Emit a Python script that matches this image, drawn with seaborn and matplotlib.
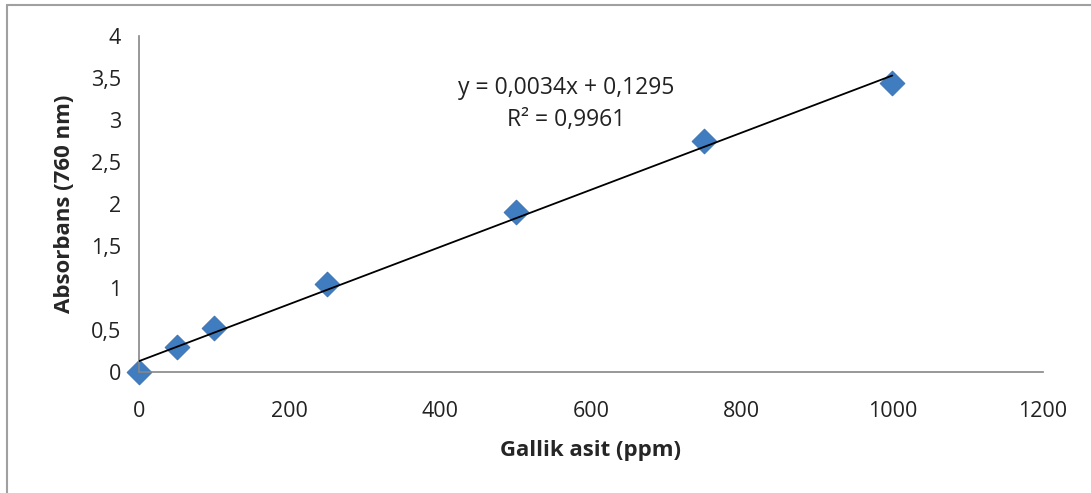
import numpy as np
import pandas as pd
import seaborn as sns
import matplotlib.pyplot as plt
from matplotlib.ticker import FuncFormatter, MultipleLocator
from matplotlib.lines import Line2D

# Gallic acid calibration data
concentration = [0, 50, 100, 250, 500, 750, 1000]
absorbance = [0.0, 0.30, 0.52, 1.05, 1.90, 2.75, 3.44]
slope, intercept = 0.0034, 0.1295
equation_text = "y = 0,0034x + 0,1295\nR² = 0,9961"

df = pd.DataFrame({"Gallik asit (ppm)": concentration, "Absorbans (760 nm)": absorbance})
df["fit"] = slope * df["Gallik asit (ppm)"] + intercept

sns.set_style("white")
plt.rcParams["font.family"] = ["Open Sans", "DejaVu Sans"]

fig = plt.figure(figsize=(10.91, 4.93), dpi=100)
ax = fig.add_axes([0.1274, 0.2454, 0.8286, 0.6816])

sns.scatterplot(data=df, x="Gallik asit (ppm)", y="Absorbans (760 nm)", marker="D",
                s=160, color="#3f7cc0", edgecolor="#3a70b0", linewidth=0.6, ax=ax,
                zorder=2, clip_on=False)
sns.lineplot(data=df, x="Gallik asit (ppm)", y="fit", color="black", linewidth=1.3, ax=ax, zorder=3)

ax.set_xlim(0, 1200)
ax.set_ylim(0, 4)
ax.xaxis.set_major_locator(MultipleLocator(200))
ax.yaxis.set_major_locator(MultipleLocator(0.5))
comma = FuncFormatter(lambda v, p: f"{v:g}".replace(".", ","))
ax.xaxis.set_major_formatter(comma)
ax.yaxis.set_major_formatter(comma)

for side in ["top", "right"]:
    ax.spines[side].set_visible(False)
for side in ["left", "bottom"]:
    ax.spines[side].set_color("#868686")
    ax.spines[side].set_linewidth(1.2)
ax.tick_params(axis="both", direction="out", length=6, width=1.2, color="#868686",
               labelsize=15.5, labelcolor="#222222")
ax.tick_params(axis="x", pad=15)
ax.tick_params(axis="y", pad=7)

ax.set_xlabel("Gallik asit (ppm)", fontsize=16, fontweight="bold", labelpad=13)
ax.set_ylabel("Absorbans (760 nm)", fontsize=16, fontweight="bold", labelpad=11)

ax.text(567, 3.19, equation_text, ha="center", va="center", fontsize=16.5,
        color="#222222", linespacing=1.45)

# chart frame (only top and left edges visible in the crop)
fig.add_artist(Line2D([7 / 1091, 1], [1 - 5 / 493, 1 - 5 / 493], color="#a0a0a0", lw=1.5,
                      transform=fig.transFigure))
fig.add_artist(Line2D([7 / 1091, 7 / 1091], [0, 1 - 5 / 493], color="#a0a0a0", lw=1.5,
                      transform=fig.transFigure))

fig.savefig("out.png", dpi=100)
